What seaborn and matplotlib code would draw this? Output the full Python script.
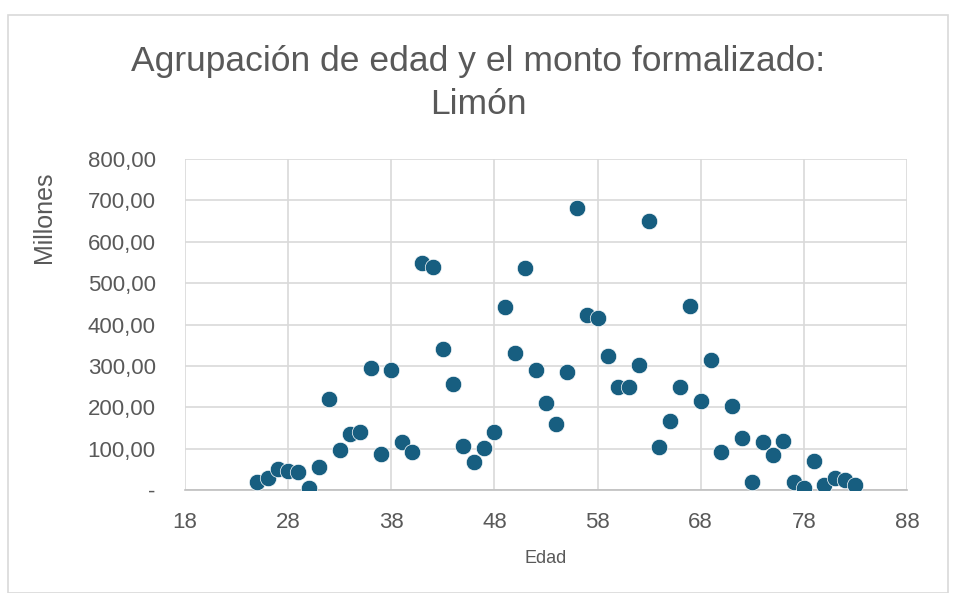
import pandas as pd
import matplotlib.pyplot as plt
import seaborn as sns
from matplotlib.patches import Rectangle
from matplotlib.ticker import FuncFormatter

# Edad (años) y monto formalizado (millones)
edad = list(range(25, 84))
monto = [20, 28, 51, 47, 43, 6, 56, 219, 97, 136,
         139, 294, 88, 290, 116, 91, 548, 540, 340, 257,
         106, 68, 101, 139, 443, 330, 537, 290, 210, 160,
         285, 682, 424, 415, 323, 249, 249, 302, 651, 103,
         167, 248, 445, 214, 315, 93, 204, 125, 19, 117,
         85, 119, 20, 6, 71, 11, 28, 23, 11]

x_ticks = [18, 28, 38, 48, 58, 68, 78, 88]
y_ticks = [0, 100, 200, 300, 400, 500, 600, 700, 800]

data = pd.DataFrame({'Edad': edad, 'Millones': monto})

sns.set_style('white')
plt.rcParams['font.family'] = ['Liberation Sans', 'DejaVu Sans']

fig = plt.figure(figsize=(9.56, 5.93), dpi=100)
ax = fig.add_axes([185 / 956, 1 - 490 / 593, (907 - 185) / 956, (490 - 159) / 593])

sns.scatterplot(data=data, x='Edad', y='Millones', ax=ax, color='#175e80',
                s=140, edgecolor='white', linewidth=0.5, zorder=3)

ax.set_xlim(18, 88)
ax.set_ylim(0, 800)
ax.set_xticks(x_ticks)
ax.set_yticks(y_ticks)

def fmt_millones(v, pos):
    if v == 0:
        return '-'
    return f'{v:,.2f}'.replace(',', 'X').replace('.', ',').replace('X', '.')

ax.yaxis.set_major_formatter(FuncFormatter(fmt_millones))
ax.grid(True, color='#d9d9d9', linewidth=1.2)
ax.set_axisbelow(True)
for side in ['top', 'right', 'left']:
    ax.spines[side].set_visible(False)
ax.spines['bottom'].set_color('#bfbfbf')
ax.spines['bottom'].set_linewidth(1.2)
ax.tick_params(axis='both', length=0, labelsize=16, colors='#595959')
ax.tick_params(axis='y', pad=21)
ax.tick_params(axis='x', pad=16)

ax.set_xlabel('Edad', fontsize=13, color='#595959', labelpad=12)
ax.set_ylabel('Millones', fontsize=18, color='#595959')
ax.yaxis.set_label_coords(-0.179, 0.825)

fig.text(0.5, 1 - 61 / 593, 'Agrupación de edad y el monto formalizado:',
         ha='center', va='center', fontsize=25.5, color='#595959')
fig.text(0.5, 1 - 104 / 593, 'Limón', ha='center', va='center',
         fontsize=25.5, color='#595959')

fig.patches.append(Rectangle((8 / 956, 0), 940 / 956, 1 - 15 / 593,
                             transform=fig.transFigure, fill=False,
                             edgecolor='#d9d9d9', linewidth=1.2))

fig.savefig('out.png', dpi=100)
